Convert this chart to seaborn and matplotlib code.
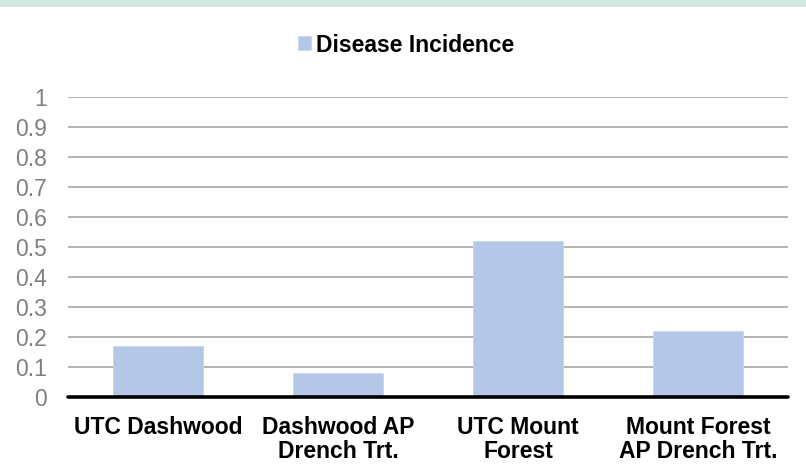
import matplotlib
matplotlib.use('Agg')
import matplotlib.pyplot as plt
import seaborn as sns

# valores
categorias = ['UTC Dashwood', 'Dashwood AP\nDrench Trt.', 'UTC Mount\nForest', 'Mount Forest\nAP Drench Trt.']
incidencia = [0.17, 0.08, 0.52, 0.22]
yticks = [0, 0.1, 0.2, 0.3, 0.4, 0.5, 0.6, 0.7, 0.8, 0.9, 1]
ytick_labels = ['0', '0.1', '0.2', '0.3', '0.4', '0.5', '0.6', '0.7', '0.8', '0.9', '1']

sns.set_style('white')
plt.rcParams['font.family'] = ['Liberation Sans', 'DejaVu Sans']
plt.rcParams['text.color'] = 'black'

fig = plt.figure(figsize=(8.06, 4.76), dpi=100)
# faixa verde no topo
fig.patches.append(plt.Rectangle((0, 1 - 7 / 476), 1, 7 / 476, transform=fig.transFigure,
                                 facecolor='#D4E9E1', edgecolor='none', zorder=0))
ax = fig.add_axes([68 / 806, 1 - 397 / 476, 720 / 806, 300 / 476])

sns.barplot(x=categorias, y=incidencia, color='#B4C7E7', width=0.5, saturation=1,
            edgecolor='#C8D6EE', linewidth=0.6, label='Disease Incidence', ax=ax, zorder=3)

ax.set_ylim(0, 1)
ax.set_xlim(-0.5, 3.5)
ax.set_yticks(yticks)
ax.set_yticklabels(ytick_labels)
for y in yticks[1:]:
    ax.axhline(y, color='#ADADAD', linewidth=1.3, zorder=1)
ax.axhline(0, color='black', linewidth=2.6, zorder=4, clip_on=False)

for s in ax.spines.values():
    s.set_visible(False)
ax.tick_params(axis='y', length=0, pad=15, labelsize=16.5, labelcolor='#7F7F7F')
ax.tick_params(axis='x', length=0, pad=14, labelsize=16.5, labelcolor='black')
for lbl in ax.get_xticklabels():
    lbl.set_fontweight('bold')
    lbl.set_horizontalalignment('center')
    lbl.set_multialignment('center')
    lbl.set_linespacing(1.05)
ax.set_xlabel('')
ax.set_ylabel('')

leg = ax.legend(loc='center', bbox_to_anchor=(0.47, 1.0 - (45 - 97) / 300), frameon=False,
                handlelength=0.55, handleheight=0.55, handletextpad=0.25,
                prop={'size': 16.5, 'weight': 'bold'})
for t in leg.get_texts():
    t.set_color('black')

fig.savefig('out.png', dpi=100)
